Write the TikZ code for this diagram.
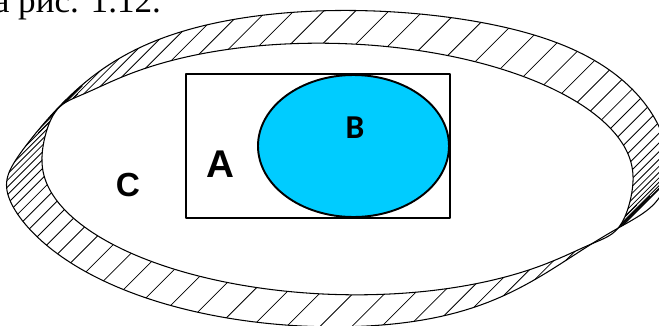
\documentclass[tikz,border=0pt]{standalone}
\usepackage{fontspec}
\setmainfont{Liberation Serif}
\setsansfont{Liberation Sans}
\newfontfamily\bfont{Carlito}
\definecolor{setcyan}{HTML}{00CCFF}
\tikzset{
  every picture/.style={line cap=round, line join=round},
  ringline/.style={line width=0.6pt},
  hatch/.style={line width=0.45pt},
  setline/.style={line width=1.1pt},
  setlbl/.style={inner sep=0pt, font=\sffamily\bfseries\fontsize{#1}{#1}\selectfont},
  % edges of the twisted ring: ellipses pinched towards each other at two places (y grows downwards)
  outerring/.style={insert path={plot[domain=0:360, samples=241, variable=\t]
    ({337.5+331*cos(\t)},
     {169+158*sin(\t)+30*exp(10.5*(cos(\t-200)-1))-26.5*exp(13.6*(cos(\t-38)-1))-9*exp(7.3*(cos(\t-322)-1))}) -- cycle}},
  innerring/.style={insert path={plot[domain=0:360, samples=241, variable=\t]
    ({337.5+295.7*cos(\t)*cos(1.92)-125.5*sin(\t)*sin(1.92)},
     {169+295.7*cos(\t)*sin(1.92)+125.5*sin(\t)*cos(1.92)-12*exp(45.6*(cos(\t-197)-1))+12*exp(45.6*(cos(\t-17)-1))}) -- cycle}},
}

\begin{document}
\begin{tikzpicture}[x=0.02cm, y=-0.02cm]
  \useasboundingbox (0,0) rectangle (659,325);
  \clip (0,0) rectangle (659,325);
  % hatched band, lines denser at the ends of the ring
  \begin{scope}
    \clip[outerring];
    \foreach \u in {0,4.5,...,355.5} {
      \pgfmathsetmacro\t{\u-9.55*sin(2*\u)}
      \draw[hatch] ({337.5+312*cos(\t)-45},{169+140*sin(\t)+45}) -- ++(90,-90);
    }
  \end{scope}
  \filldraw[ringline, fill=white, innerring];
  \draw[ringline, outerring];
  % set A and set B
  \draw[setline] (186,74) rectangle (450,218);
  \filldraw[setline, fill=setcyan] (353.5,146) ellipse [x radius=95.5, y radius=71];
  \node[setlbl=22] (lblA) at (220,164) {A};
  \node[setlbl=19] (lblC) at (128,185) {C};
  \node[inner sep=0pt, font=\bfont\bfseries\fontsize{19}{19}\selectfont] (lblB) at (355,128) {B};
  % caption line cut by the top edge
  \node[anchor=base west, inner sep=0pt, font=\fontsize{20}{24}\selectfont] (caption) at (-6.5,12) {а рис. 1.12.};
\end{tikzpicture}
\end{document}
